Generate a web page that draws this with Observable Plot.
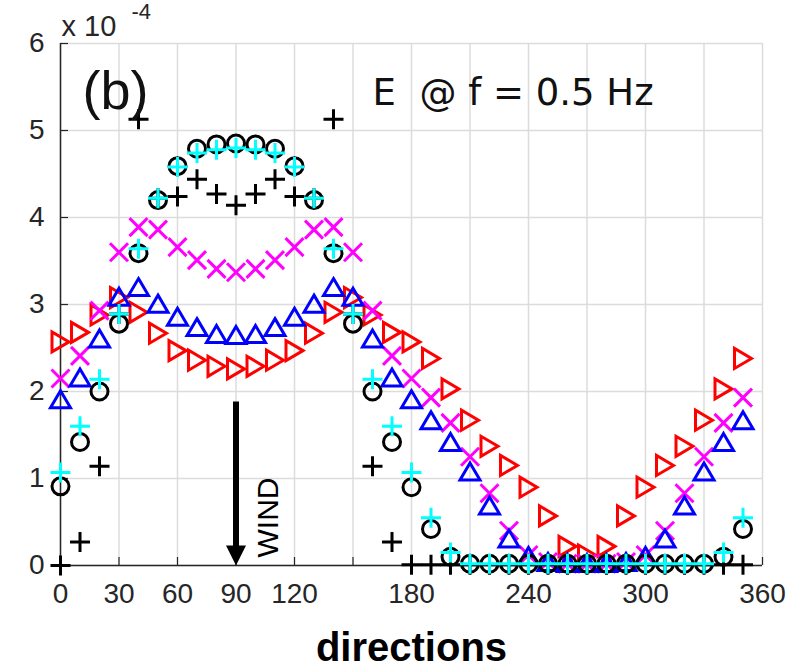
<!DOCTYPE html>
<html>
<head>
<meta charset="utf-8">
<script src="https://cdn.jsdelivr.net/npm/d3@7"></script>
<script src="https://cdn.jsdelivr.net/npm/@observablehq/plot@0.6"></script>
<style>
  html, body { margin: 0; padding: 0; background: #ffffff; }
</style>
</head>
<body>
<div id="chart"></div>
<script>
// ---- data (energy in units of 1e-4) ----
const dirs = [0,10,20,30,40,50,60,70,80,90,100,110,120,130,140,150,160,170,
              180,190,200,210,220,230,240,250,260,270,280,290,300,310,320,330,340,350];

const blackPlus = [0.00,0.27,1.14,2.89,5.13,4.22,4.24,4.44,4.27,4.14,4.27,4.44,4.24,4.22,5.13,2.89,1.14,0.27,
                   0.01,0.01,0.01,0.01,0.01,0.01,0.01,0.01,0.01,0.01,0.01,0.01,0.01,0.01,0.01,0.01,0.01,0.01];
const blackCircle = [0.91,1.42,2.00,2.78,3.59,4.20,4.59,4.79,4.84,4.85,4.84,4.79,4.59,4.20,3.59,2.78,2.00,1.42,
                     0.90,0.42,0.10,0.02,0.02,0.02,0.02,0.02,0.02,0.02,0.02,0.02,0.02,0.02,0.02,0.02,0.10,0.42];
const cyanPlus = [1.07,1.60,2.14,2.89,3.64,4.22,4.58,4.74,4.78,4.80,4.78,4.74,4.58,4.22,3.64,2.89,2.14,1.60,
                  1.07,0.55,0.15,0.02,0.02,0.02,0.02,0.02,0.02,0.02,0.02,0.02,0.02,0.02,0.02,0.02,0.15,0.55];
const magentaX = [2.15,2.41,2.93,3.60,3.89,3.86,3.66,3.51,3.41,3.37,3.41,3.51,3.66,3.86,3.89,3.60,2.93,2.41,
                  2.15,1.93,1.64,1.25,0.83,0.40,0.12,0.04,0.02,0.02,0.02,0.04,0.12,0.40,0.83,1.25,1.64,1.93];
const blueTri = [1.91,2.16,2.61,3.09,3.20,3.01,2.86,2.74,2.66,2.65,2.66,2.74,2.86,3.01,3.20,3.09,2.61,2.16,
                 1.91,1.67,1.42,1.08,0.69,0.31,0.11,0.04,0.03,0.03,0.03,0.04,0.11,0.31,0.69,1.08,1.42,1.67];
const redTri = [2.57,2.68,2.88,3.08,2.91,2.67,2.47,2.36,2.29,2.26,2.29,2.36,2.47,2.67,2.91,3.08,2.88,2.68,
                2.57,2.38,2.03,1.67,1.37,1.15,0.90,0.57,0.22,0.12,0.22,0.57,0.90,1.15,1.37,1.67,2.03,2.38];

const xGridTicks = [0,30,60,90,120,150,180,210,240,270,300,330,360];
const xTickLabels = [0,30,60,90,120,180,240,300,360];
const yTicks = [0,1,2,3,4,5,6];
const windArrow = [{dir: 90, top: 1.88, base: 0, label: "WIND"}];
const panelLabel = "(b)";
const titleText = "E  @ f = 0.5 Hz";
const xLabel = "directions";
const expBase = "x 10";
const expPower = "-4";

// ---- marker shapes ----
const symPlus = {draw(c){ const a = 10; c.moveTo(-a,0); c.lineTo(a,0); c.moveTo(0,-a); c.lineTo(0,a); }};
const symTimes = {draw(c){ const a = 9; c.moveTo(-a,-a); c.lineTo(a,a); c.moveTo(-a,a); c.lineTo(a,-a); }};
const symCircle = {draw(c){ const r = 8.5; c.moveTo(r,0); c.arc(0,0,r,0,2*Math.PI); }};
const symTriUp = {draw(c){ const w = 10, h = 8.5; c.moveTo(0,-h); c.lineTo(w,h); c.lineTo(-w,h); c.closePath(); }};
const symTriRight = {draw(c){ const w = 10, h = 8.5; c.moveTo(h,0); c.lineTo(-h,w); c.lineTo(-h,-w); c.closePath(); }};
const symHead = {draw(c){ c.moveTo(0,10); c.lineTo(-10,-10); c.lineTo(10,-10); c.closePath(); }};

const seriesDefs = [
  {values: redTri, symbol: symTriRight, color: "#ff0000"},
  {values: magentaX, symbol: symTimes, color: "#ff00ff"},
  {values: blueTri, symbol: symTriUp, color: "#0000ff"},
  {values: blackPlus, symbol: symPlus, color: "#000000"},
  {values: blackCircle, symbol: symCircle, color: "#000000"},
  {values: cyanPlus, symbol: symPlus, color: "#00ffff"}
];

const axisColor = "#262626";

const marks = [
  Plot.gridX(xGridTicks, {stroke: "#dcdcdc", strokeOpacity: 1, strokeWidth: 1.5}),
  Plot.gridY(yTicks, {stroke: "#dcdcdc", strokeOpacity: 1, strokeWidth: 1.5}),
  Plot.ruleX([0], {stroke: axisColor, strokeWidth: 1.5}),
  Plot.ruleY([0], {stroke: axisColor, strokeWidth: 1.5}),
  // inward ticks
  Plot.axisX(xGridTicks, {anchor: "bottom", tickSize: 8, dy: -8, tickFormat: () => "", stroke: axisColor, strokeWidth: 1.2, label: null}),
  Plot.axisY(yTicks, {anchor: "left", tickSize: 8, dx: 8, tickFormat: () => "", stroke: axisColor, strokeWidth: 1.2, label: null}),
  // tick labels
  Plot.axisX(xTickLabels, {anchor: "bottom", tickSize: 0, tickPadding: 18, tickFormat: d3.format("d"), fill: axisColor, fontSize: 28, label: null}),
  Plot.axisY(yTicks, {anchor: "left", tickSize: 0, tickPadding: 16, tickFormat: d3.format("d"), fill: axisColor, fontSize: 28, label: null}),
];

for (const s of seriesDefs) {
  const data = dirs.map((d, i) => ({dir: d, e: s.values[i]}));
  marks.push(Plot.dot(data, {x: "dir", y: "e", symbol: s.symbol, r: 10, fill: "none", stroke: s.color, strokeWidth: 3}));
}

marks.push(
  Plot.ruleX(windArrow, {x: "dir", y1: "top", y2: "base", stroke: "#000", strokeWidth: 6, insetBottom: 12}),
  Plot.dot(windArrow, {x: "dir", y: "base", symbol: symHead, r: 10, fill: "#000", stroke: "none", dy: -10}),
  Plot.text(windArrow, {x: "dir", y: "base", text: "label", rotate: -90, textAnchor: "start", lineAnchor: "bottom",
                        dx: 42, dy: -8, fontSize: 30, fill: "#000", fontFamily: "Liberation Sans, Arial, sans-serif"}),
  Plot.text([panelLabel], {frameAnchor: "top-left", textAnchor: "start", lineAnchor: "bottom", dx: 22, dy: 65,
                        fontSize: 54, fill: "#111"}),
  Plot.text([titleText], {frameAnchor: "top-left", textAnchor: "start", lineAnchor: "bottom", dx: 312, dy: 61,
                        fontSize: 37, fill: "#111", fontFamily: "DejaVu Sans, sans-serif"}),
  Plot.text([expBase], {frameAnchor: "top-left", textAnchor: "start", lineAnchor: "bottom", dx: 1, dy: -8,
                        fontSize: 29, fill: axisColor}),
  Plot.text([expPower], {frameAnchor: "top-left", textAnchor: "start", lineAnchor: "bottom", dx: 71, dy: -25,
                        fontSize: 22, fill: axisColor}),
  Plot.text([xLabel], {frameAnchor: "bottom", textAnchor: "middle", lineAnchor: "bottom", dy: 95,
                        fontSize: 40, fontWeight: "bold", fill: "#000"})
);

const chart = Plot.plot({
  width: 795,
  height: 668,
  marginLeft: 60,
  marginRight: 33,
  marginTop: 43,
  marginBottom: 103,
  x: {domain: [0, 360], label: null},
  y: {domain: [0, 6], label: null},
  style: {background: "#ffffff", fontFamily: "'Liberation Sans', Arial, sans-serif", fontSize: "28px", color: axisColor},
  marks
});
// preserve multiple spaces in the title text
d3.select(chart).selectAll("text").filter(function(){ return this.textContent === titleText; })
  .attr("xml:space", "preserve").style("white-space", "pre");
document.getElementById("chart").appendChild(chart);
</script>
</body>
</html>
